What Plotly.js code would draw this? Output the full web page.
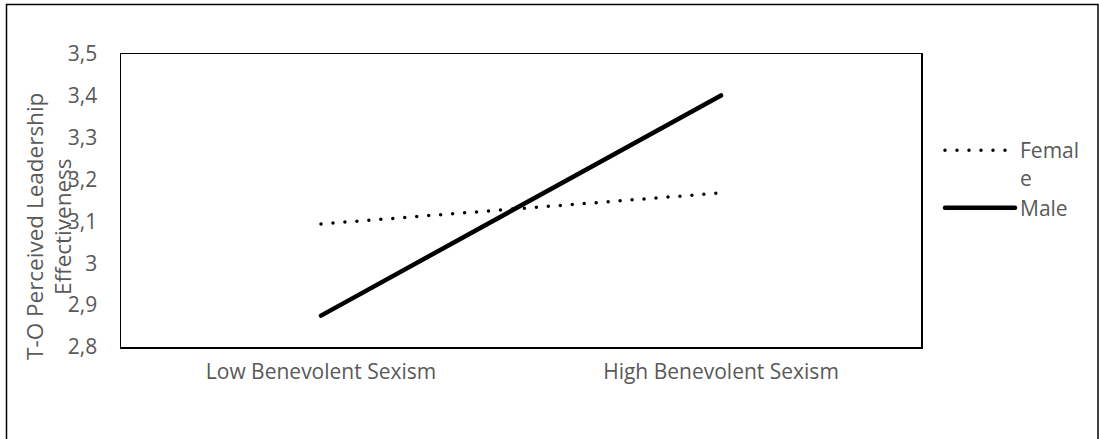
<!DOCTYPE html>
<html>
<head>
<meta charset="utf-8">
<script src="https://cdn.plot.ly/plotly-3.0.1.min.js"></script>
<style>
  html, body { margin: 0; padding: 0; background: #fff; }
  #chart { width: 1099px; height: 439px; }
  path.js-line { stroke-linecap: round; }
</style>
</head>
<body>
<div id="chart"></div>
<script>
const categories = ["Low Benevolent Sexism", "High Benevolent Sexism"];
const femaleValues = [3.094, 3.168];
const maleValues = [2.875, 3.401];
const yTickValues = [2.8, 2.9, 3.0, 3.1, 3.2, 3.3, 3.4, 3.5];
const seriesNames = ["Femal<br>e", "Male"];
const yTitleLines = ["T-O Perceived Leadership", "Effectiveness"];

const FONT = "Open Sans, sans-serif";
const GRAY = "#595959";

const traces = [
  {
    x: categories, y: femaleValues, name: seriesNames[0],
    type: "scatter", mode: "lines",
    line: { color: "#000", width: 3.5, dash: "0px,12px" },
    hoverinfo: "skip"
  },
  {
    x: categories, y: maleValues, name: seriesNames[1],
    type: "scatter", mode: "lines",
    line: { color: "#000", width: 4.5 },
    hoverinfo: "skip"
  }
];

const L = 121, R = 921, T = 54, B = 347, W = 1099, H = 439;
const pw = R - L, ph = B - T;
const px = v => (v - L) / pw;
const py = v => (B - v) / ph;

const layout = {
  width: W, height: H,
  margin: { l: L, r: W - R, t: T, b: H - B, pad: 0 },
  paper_bgcolor: "#fff", plot_bgcolor: "#fff",
  separators: ", ",
  font: { family: FONT, color: GRAY, size: 21 },
  showlegend: true,
  legend: {
    x: px(940), y: py(130), xanchor: "left", yanchor: "top",
    itemwidth: 70, valign: "top",
    font: { family: FONT, size: 21, color: GRAY },
    bgcolor: "rgba(0,0,0,0)"
  },
  xaxis: {
    type: "category", range: [-0.5, 1.5],
    showgrid: false, zeroline: false,
    showline: true, mirror: true, linecolor: "#000", linewidth: 1.5,
    ticks: "", ticklabelstandoff: 5,
    tickfont: { family: FONT, size: 21, color: GRAY }
  },
  yaxis: {
    range: [2.8, 3.5], tickvals: yTickValues,
    showgrid: false, zeroline: false,
    showline: true, mirror: true, linecolor: "#000", linewidth: 1.5,
    ticks: "", ticklabelstandoff: 18,
    tickfont: { family: FONT, size: 21, color: GRAY }
  },
  annotations: [
    {
      xref: "paper", yref: "paper", x: px(34), y: py(227),
      xanchor: "center", yanchor: "middle", textangle: -90,
      text: yTitleLines[0], showarrow: false,
      font: { family: FONT, size: 22.5, color: GRAY }
    },
    {
      xref: "paper", yref: "paper", x: px(62), y: py(227),
      xanchor: "center", yanchor: "middle", textangle: -90,
      text: yTitleLines[1], showarrow: false,
      font: { family: FONT, size: 22.5, color: GRAY }
    }
  ],
  shapes: [
    {
      type: "rect", xref: "paper", yref: "paper", layer: "below",
      x0: px(6.5), x1: px(1098), y0: py(460), y1: py(4.5),
      line: { color: "#000", width: 1.5 }, fillcolor: "rgba(0,0,0,0)"
    }
  ]
};

Plotly.newPlot("chart", traces, layout, { displayModeBar: false, staticPlot: true });
</script>
</body>
</html>
